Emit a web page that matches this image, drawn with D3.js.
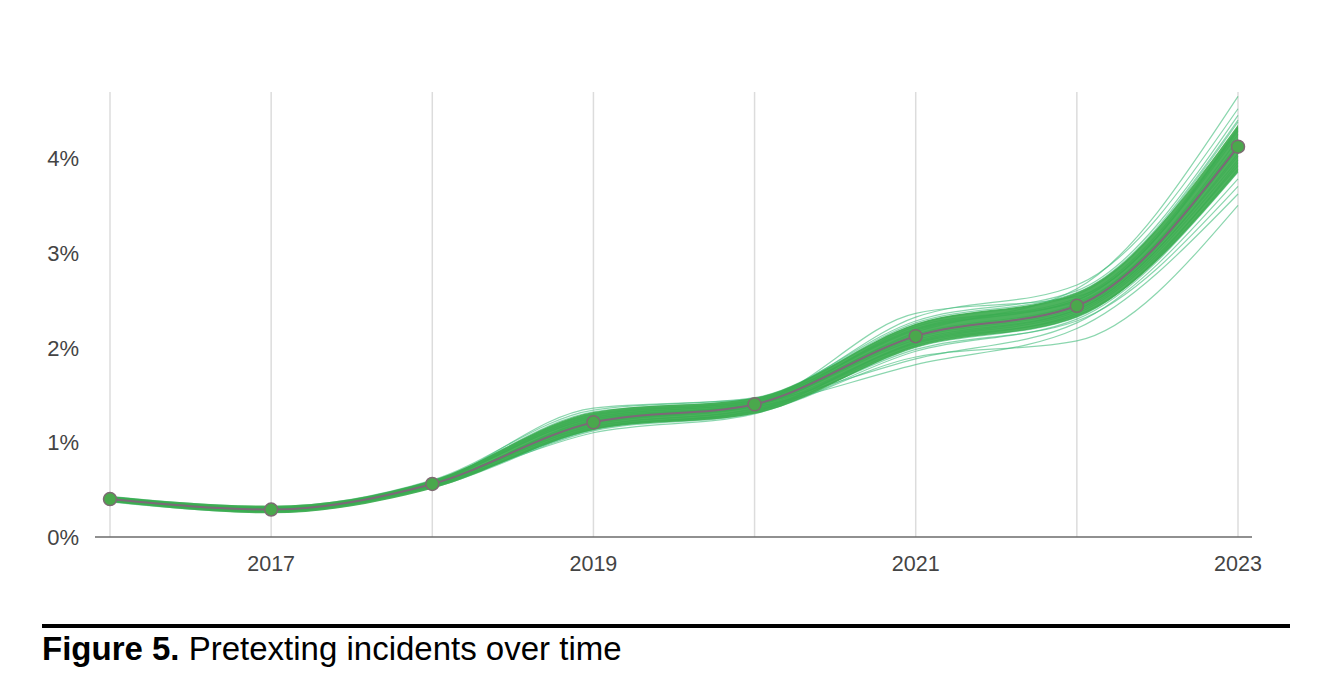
<!DOCTYPE html>
<html>
<head>
<meta charset="utf-8">
<script src="https://cdn.jsdelivr.net/npm/d3@7"></script>
<style>
  body { margin: 0; background: #fff; }
  svg { display: block; font-family: "Liberation Sans", Arial, sans-serif; }
</style>
</head>
<body>
<svg id="chart" width="1334" height="700"></svg>
<script>
// years and tick labels
const years = [2016, 2017, 2018, 2019, 2020, 2021, 2022, 2023]
const xTickLabels = [2017, 2019, 2021, 2023]
const yTicks = [0, 1, 2, 3, 4]

// central estimate (percent)
const meanValues = [0.40, 0.29, 0.56, 1.21, 1.40, 2.12, 2.44, 4.12]

// dense core of the simulated lines
const coreLow  = [0.37, 0.25, 0.51, 1.13, 1.30, 2.00, 2.32, 3.85]
const coreHigh = [0.43, 0.33, 0.60, 1.32, 1.47, 2.25, 2.58, 4.35]

// individual simulated lines
const samples = [
  [0.39, 0.28, 0.55, 1.18, 1.38, 2.08, 2.40, 4.05],
  [0.41, 0.30, 0.58, 1.26, 1.43, 2.18, 2.50, 4.25],
  [0.38, 0.27, 0.53, 1.14, 1.34, 2.02, 2.36, 3.92],
  [0.42, 0.31, 0.59, 1.30, 1.45, 2.24, 2.56, 4.38],
  [0.40, 0.29, 0.56, 1.22, 1.41, 2.14, 2.46, 4.15],
  [0.37, 0.26, 0.52, 1.12, 1.31, 1.96, 2.30, 3.85],
  [0.43, 0.32, 0.60, 1.34, 1.47, 2.28, 2.60, 4.45],
  [0.39, 0.29, 0.57, 1.20, 1.39, 2.10, 2.42, 4.10],
  [0.40, 0.27, 0.54, 1.16, 1.36, 2.05, 2.38, 3.98],
  [0.41, 0.31, 0.58, 1.28, 1.44, 2.20, 2.52, 4.30],
  [0.38, 0.28, 0.55, 1.24, 1.42, 2.16, 2.62, 4.65],
  [0.40, 0.30, 0.56, 1.10, 1.30, 1.90, 2.07, 3.50],
  [0.39, 0.29, 0.55, 1.19, 1.37, 1.82, 2.20, 3.62],
  [0.42, 0.30, 0.57, 1.36, 1.46, 2.32, 2.66, 4.52],
  [0.38, 0.27, 0.53, 1.15, 1.33, 1.98, 2.28, 3.70],
  [0.41, 0.29, 0.58, 1.25, 1.40, 2.22, 2.48, 4.20],
  [0.40, 0.28, 0.55, 1.21, 1.38, 2.12, 2.44, 4.12],
  [0.39, 0.30, 0.56, 1.17, 1.35, 2.04, 2.34, 3.88],
  [0.41, 0.31, 0.59, 1.32, 1.46, 2.26, 2.58, 4.40],
  [0.40, 0.29, 0.54, 1.13, 1.32, 2.00, 2.32, 3.95],
  [0.42, 0.30, 0.57, 1.27, 1.42, 2.36, 2.54, 4.32],
  [0.38, 0.28, 0.55, 1.23, 1.40, 1.88, 2.26, 3.78],
  [0.40, 0.30, 0.58, 1.29, 1.44, 2.19, 2.50, 4.28],
  [0.39, 0.27, 0.53, 1.14, 1.33, 2.06, 2.40, 4.02]
]

const svg = d3.select('#chart')

const x = d3.scaleLinear().domain([2016, 2023]).range([110, 1238])
const y = d3.scaleLinear().domain([0, 4]).range([537, 158])

// vertical grid
svg.append('g')
  .selectAll('line')
  .data(years)
  .join('line')
    .attr('x1', d => x(d))
    .attr('x2', d => x(d))
    .attr('y1', 92)
    .attr('y2', y(0))
    .style('stroke', '#dcdcdc')
    .style('stroke-width', 1.5)

// x axis baseline
svg.append('line')
  .attr('x1', 95)
  .attr('x2', 1252)
  .attr('y1', y(0))
  .attr('y2', y(0))
  .style('stroke', '#6b6b6b')
  .style('stroke-width', 1.5)

// axis labels
svg.append('g')
  .selectAll('text')
  .data(yTicks)
  .join('text')
    .attr('x', 79)
    .attr('y', d => y(d) + 8)
    .attr('text-anchor', 'end')
    .style('font-size', '22px')
    .style('fill', '#444')
    .text(d => d + '%')

svg.append('g')
  .selectAll('text')
  .data(xTickLabels)
  .join('text')
    .attr('x', d => x(d))
    .attr('y', 571)
    .attr('text-anchor', 'middle')
    .style('font-size', '21.5px')
    .style('fill', '#444')
    .text(d => d)

const line = d3.line()
  .x((d, i) => x(years[i]))
  .y(d => y(d))
  .curve(d3.curveMonotoneX)

const area = d3.area()
  .x((d, i) => x(years[i]))
  .y0((d, i) => y(coreLow[i]))
  .y1((d, i) => y(coreHigh[i]))
  .curve(d3.curveMonotoneX)

// thin simulated lines
svg.append('g')
  .selectAll('path')
  .data(samples)
  .join('path')
    .attr('d', line)
    .style('fill', 'none')
    .style('stroke', '#3dbb78')
    .style('stroke-width', 1.2)
    .style('opacity', 0.6)

// dense core
svg.append('path')
  .datum(coreLow)
  .attr('d', area)
  .style('fill', '#3aab4c')
  .style('opacity', 0.9)

// central line with markers
svg.append('path')
  .datum(meanValues)
  .attr('d', line)
  .style('fill', 'none')
  .style('stroke', '#7d6878')
  .style('stroke-width', 2)

svg.append('g')
  .selectAll('circle')
  .data(meanValues)
  .join('circle')
    .attr('cx', (d, i) => x(years[i]))
    .attr('cy', d => y(d))
    .attr('r', 6.5)
    .style('fill', '#4aa84c')
    .style('stroke', '#7d6a72')
    .style('stroke-width', 1.5)

// caption
svg.append('line')
  .attr('x1', 42)
  .attr('x2', 1290)
  .attr('y1', 626)
  .attr('y2', 626)
  .style('stroke', '#000')
  .style('stroke-width', 4)

const caption = svg.append('text')
  .attr('x', 42)
  .attr('y', 660)
  .style('font-size', '33px')
  .style('fill', '#000')

caption.append('tspan').style('font-weight', 'bold').text('Figure 5.')
caption.append('tspan').text(' Pretexting incidents over time')
</script>
</body>
</html>
